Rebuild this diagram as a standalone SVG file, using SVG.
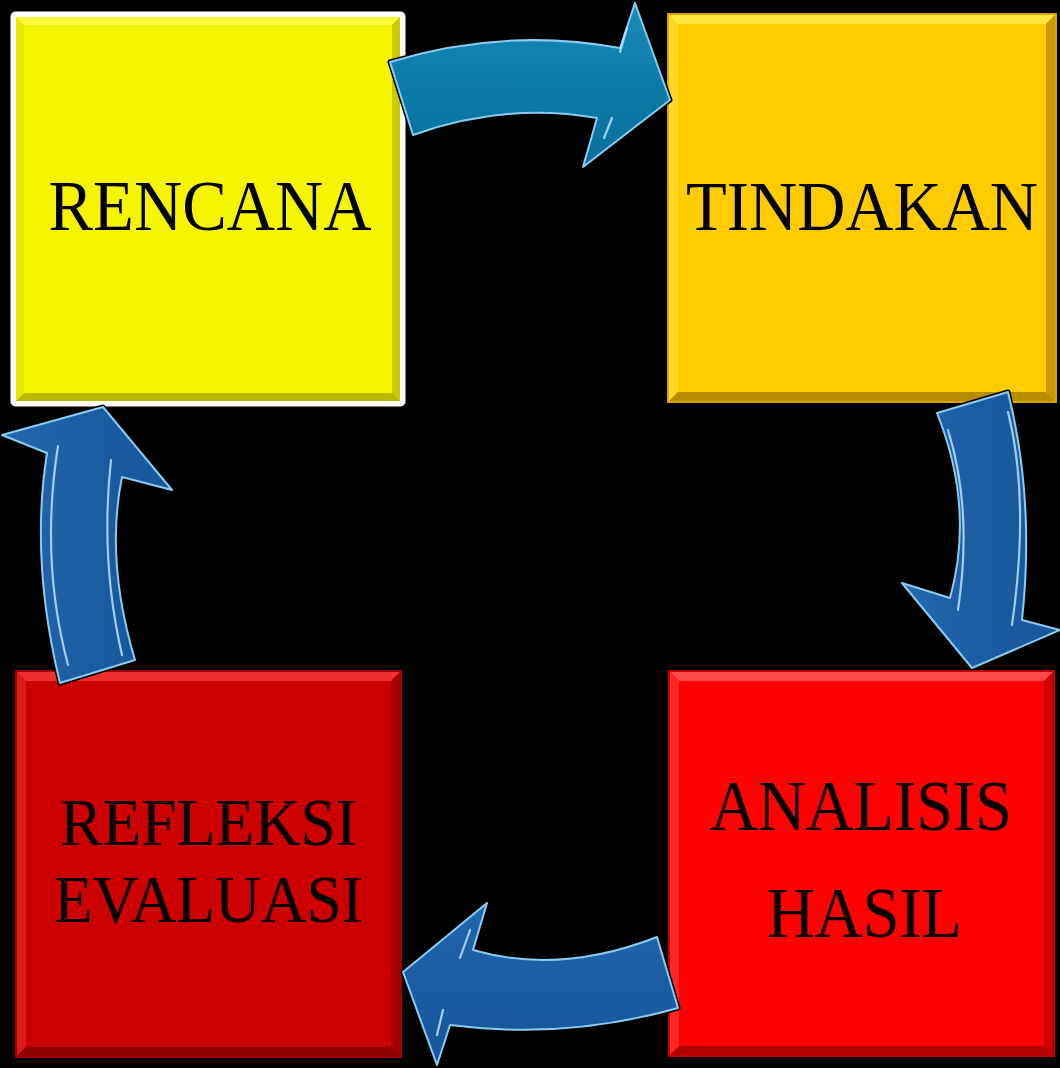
<svg xmlns="http://www.w3.org/2000/svg" width="1060" height="1068" viewBox="0 0 1060 1068">
<style>
.lbl{font-family:"Liberation Serif","Times New Roman",serif;fill:#000;text-anchor:middle}
.arrow-out{fill:none;stroke:#000;stroke-width:5;stroke-linejoin:round}
.arrow{stroke:#8ccbf0;stroke-width:2;stroke-linejoin:round}
.shine{fill:none;stroke:#b8e2ff;stroke-width:2.2;stroke-linecap:round;opacity:0.85}
</style>
<defs>
<linearGradient id="gTeal" x1="0" y1="0" x2="0" y2="1">
<stop offset="0" stop-color="#1a8cb8"/><stop offset="0.5" stop-color="#0b7aa8"/><stop offset="1" stop-color="#0a6f9c"/>
</linearGradient>
<linearGradient id="gBlueV" x1="0" y1="0" x2="1" y2="0">
<stop offset="0" stop-color="#2468ad"/><stop offset="0.5" stop-color="#1a5ca2"/><stop offset="1" stop-color="#17569a"/>
</linearGradient>
<linearGradient id="gBlueH" x1="0" y1="0" x2="0" y2="1">
<stop offset="0" stop-color="#2267ab"/><stop offset="0.5" stop-color="#1a5ca2"/><stop offset="1" stop-color="#16559a"/>
</linearGradient>
</defs>
<rect width="1060" height="1068" fill="#000"/>

<g id="node-rencana">
<rect x="10.5" y="11.5" width="395" height="395" rx="5" fill="#fff"/>
<rect x="16" y="17" width="384" height="384" fill="#f5f500"/>
<polygon points="16,17 400,17 392,25 24,25" fill="#fbfb3a"/>
<polygon points="16,17 24,25 24,393 16,401" fill="#e8e800"/>
<polygon points="400,17 400,401 392,393 392,25" fill="#caca00"/>
<polygon points="16,401 400,401 392,393 24,393" fill="#b8b800"/>
<text class="lbl" x="210" y="230" font-size="72" textLength="323" lengthAdjust="spacingAndGlyphs">RENCANA</text>
</g>

<g id="node-tindakan">
<rect x="667" y="13" width="390" height="390" fill="#d9a400"/>
<rect x="669" y="15" width="386" height="386" fill="#ffcc00"/>
<polygon points="669,15 1055,15 1046,24 678,24" fill="#ffe640"/>
<polygon points="669,15 678,24 678,392 669,401" fill="#ffd828"/>
<polygon points="1055,15 1055,401 1046,392 1046,24" fill="#c99a00"/>
<polygon points="669,401 1055,401 1046,392 678,392" fill="#b88c00"/>
<text class="lbl" x="862" y="230" font-size="70" textLength="352" lengthAdjust="spacingAndGlyphs">TINDAKAN</text>
</g>

<g id="node-refleksi">
<rect x="15" y="670" width="387" height="388" fill="#a00000"/>
<rect x="17" y="672" width="383" height="384" fill="#cc0000"/>
<polygon points="17,672 400,672 391,681 26,681" fill="#ee3030"/>
<polygon points="17,672 26,681 26,1047 17,1056" fill="#dd1a1a"/>
<polygon points="400,672 400,1056 391,1047 391,681" fill="#a30000"/>
<polygon points="17,1056 400,1056 391,1047 26,1047" fill="#8e0000"/>
<text class="lbl" x="208.5" y="845" font-size="68" textLength="297" lengthAdjust="spacingAndGlyphs">REFLEKSI</text>
<text class="lbl" x="208.5" y="922" font-size="68" textLength="309" lengthAdjust="spacingAndGlyphs">EVALUASI</text>
</g>

<g id="node-analisis">
<rect x="668" y="670" width="387" height="387" fill="#c00000"/>
<rect x="670" y="672" width="383" height="383" fill="#ff0000"/>
<polygon points="670,672 1053,672 1044,681 679,681" fill="#ff4a4a"/>
<polygon points="670,672 679,681 679,1046 670,1055" fill="#ff2626"/>
<polygon points="1053,672 1053,1055 1044,1046 1044,681" fill="#cc0000"/>
<polygon points="670,1055 1053,1055 1044,1046 679,1046" fill="#b00000"/>
<text class="lbl" x="861" y="830" font-size="72" textLength="302" lengthAdjust="spacingAndGlyphs">ANALISIS</text>
<text class="lbl" x="864.5" y="937" font-size="72" textLength="195" lengthAdjust="spacingAndGlyphs">HASIL</text>
</g>

<g id="connectors">
<g id="arrow-rencana-tindakan">
<path class="arrow-out" d="M390,62 Q505,27 620,48 L635,3 L670,100 L583,167 L597,118 Q505,102 413,135 Z"/>
<path class="arrow" fill="url(#gTeal)" d="M390,62 Q505,27 620,48 L635,3 L670,100 L583,167 L597,118 Q505,102 413,135 Z"/>
<path class="shine" d="M627,28 L620,52"/>
<path class="shine" d="M612,118 L604,138"/>
</g>
<g id="arrow-tindakan-analisis">
<path class="arrow-out" d="M937,413 L1008,392 Q1035,500 1022,620 L1060,630 L972,668 L902,583 L950,598 Q975,508 937,413 Z"/>
<path class="arrow" fill="url(#gBlueV)" d="M937,413 L1008,392 Q1035,500 1022,620 L1060,630 L972,668 L902,583 L950,598 Q975,508 937,413 Z"/>
<path class="shine" d="M948,430 Q973,510 958,610"/>
<path class="shine" d="M1008,412 Q1030,500 1012,625"/>
</g>
<g id="arrow-analisis-refleksi">
<path class="arrow-out" d="M657,937 L678,1008 Q565,1040 450,1025 L437,1065 L403,972 L487,903 L473,950 Q560,975 657,937 Z"/>
<path class="arrow" fill="url(#gBlueH)" d="M657,937 L678,1008 Q565,1040 450,1025 L437,1065 L403,972 L487,903 L473,950 Q560,975 657,937 Z"/>
<path class="shine" d="M470,930 L460,958"/>
<path class="shine" d="M443,1010 L437,1035"/>
</g>
<g id="arrow-refleksi-rencana">
<path class="arrow-out" d="M60,683 Q30,560 47,453 L2,435 L103,407 L172,490 L122,477 Q105,560 135,660 Z"/>
<path class="arrow" fill="url(#gBlueV)" d="M60,683 Q30,560 47,453 L2,435 L103,407 L172,490 L122,477 Q105,560 135,660 Z"/>
<path class="shine" d="M58,446 Q40,560 68,665"/>
<path class="shine" d="M111,460 Q100,560 122,655"/>
</g>
</g>
</svg>
